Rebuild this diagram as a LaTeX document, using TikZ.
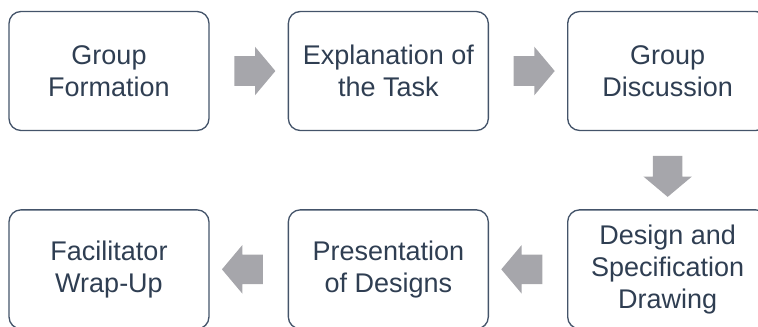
\documentclass[tikz,border=0pt]{standalone}
\usepackage{fontspec}
\setmainfont{Liberation Sans}
\usetikzlibrary{positioning,shapes.arrows,calc}
\definecolor{boxline}{HTML}{44546A}
\definecolor{boxtext}{HTML}{2F3E52}
\definecolor{arrowgray}{HTML}{A6A6AB}

\begin{document}
\begin{tikzpicture}[stage/.style={draw=boxline, line width=1pt, rounded corners=9pt, minimum width=150pt, minimum height=89.25pt, align=center, text=boxtext, font=\fontsize{20.25}{24}\selectfont},%
        flow/.style={single arrow, fill=arrowgray, draw=none, inner xsep=0pt, inner ysep=10.9pt, single arrow head extend=7.1pt, single arrow tip angle=100, minimum height=30.75pt},%
        node distance=58.5pt]
        \clip (0,0) rectangle (568.5pt,-244.5pt);
        % top row, left to right
        \node[stage] (form) at (81.75pt,-53.25pt) {Group\\Formation};
        \node[stage, right=of form] (task) {Explanation of\\the Task};
        \node[stage, right=of task] (disc) {Group\\Discussion};
        % bottom row, right to left
        \node[stage, below=of disc] (spec) {Design and\\Specification\\Drawing};
        \node[stage, left=of spec] (pres) {Presentation\\of Designs};
        \node[stage, left=of pres] (wrap) {Facilitator\\Wrap-Up};
        % arrows between the steps
        \node[flow] (a1) at ($(form.east)!0.5!(task.west)$) {};
        \node[flow] (a2) at ($(task.east)!0.5!(disc.west)$) {};
        \node[flow, shape border rotate=270, inner xsep=10.9pt, inner ysep=0pt] (a3) at ($(disc.south)!0.5!(spec.north)$) {};
        \node[flow, shape border rotate=180] (a4) at ($(spec.west)!0.5!(pres.east)$) {};
        \node[flow, shape border rotate=180] (a5) at ($(pres.west)!0.5!(wrap.east)$) {};
\end{tikzpicture}
\end{document}
